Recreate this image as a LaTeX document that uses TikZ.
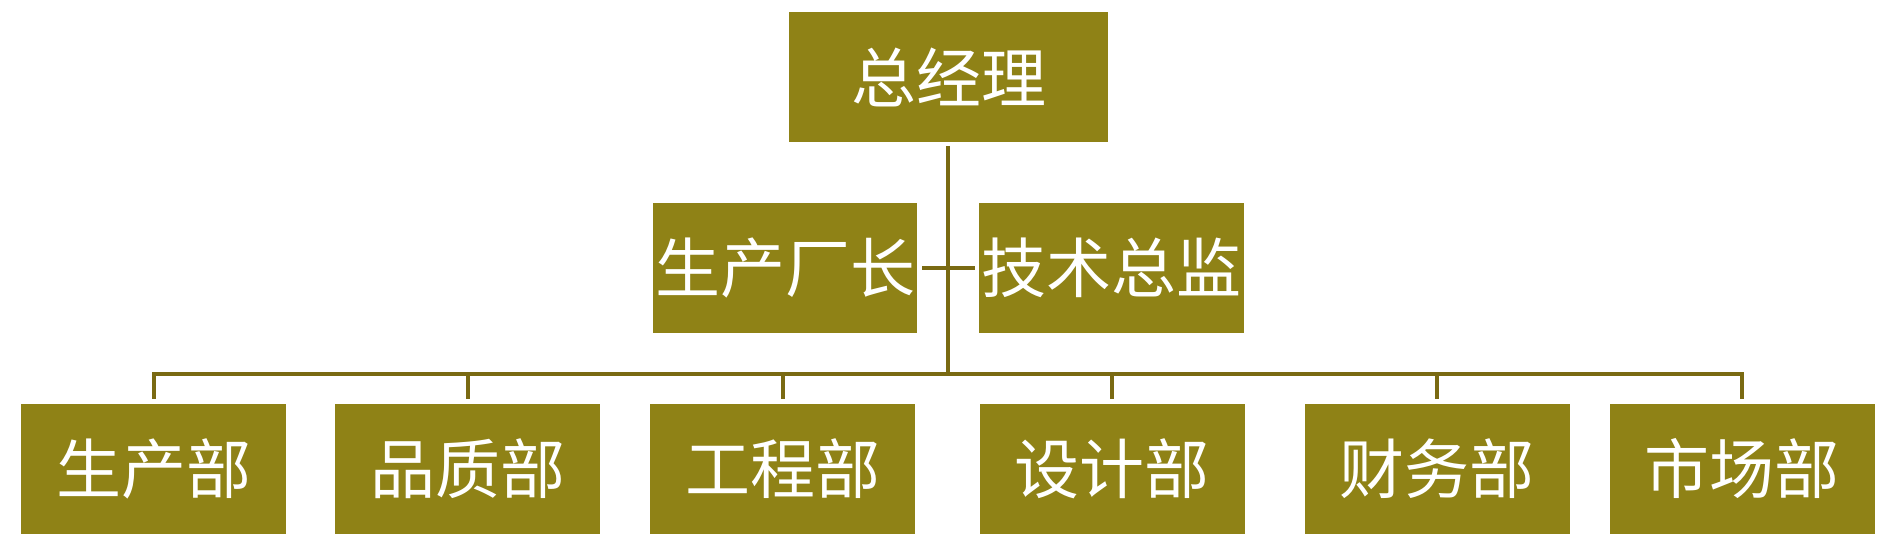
\documentclass[tikz,border=0pt]{standalone}
\usepackage{fontspec}
\newfontfamily\cjk{Noto Sans CJK SC}
\definecolor{boxfill}{RGB}{143,130,22}
\definecolor{linecol}{RGB}{122,106,18}
\begin{document}
\begin{tikzpicture}[x=1pt,y=1pt,
  orgbox/.style={rectangle, fill=boxfill, inner sep=0pt, minimum height=130pt, minimum width=265pt,
    text=white, font=\cjk\fontsize{65}{65}\selectfont},
  conn/.style={draw=linecol, line width=4pt, line join=miter}]
\useasboundingbox (0,0) rectangle (1897,539);
\node[orgbox, minimum width=319pt] (top) at (948.5,462) {总经理};
\node[orgbox, minimum width=264pt] (ml) at (785,271) {生产厂长};
\node[orgbox] (mr) at (1111.5,271) {技术总监};
\node[orgbox] (b1) at (153.5,70) {生产部};
\node[orgbox] (b2) at (467.5,70) {品质部};
\node[orgbox] (b3) at (782.5,70) {工程部};
\node[orgbox] (b4) at (1112,70) {设计部};
\node[orgbox] (b5) at (1437,70) {财务部};
\node[orgbox] (b6) at (1742,70) {市场部};
\coordinate (bar) at (948,165);
\coordinate (topgap) at (948,393);
\draw[conn] (topgap) -- (bar);
\draw[conn, shorten <=5pt, shorten >=5pt] (b1.north) -- (b1.north |- bar) -- (b6.north |- bar) -- (b6.north);
\foreach \b in {b2,b3,b4,b5}{
  \draw[conn, shorten >=5pt] (\b.north |- bar) -- (\b.north);
}
\draw[conn, shorten <=5pt, shorten >=4pt] (ml.east) -- (mr.west);
\end{tikzpicture}
\end{document}
